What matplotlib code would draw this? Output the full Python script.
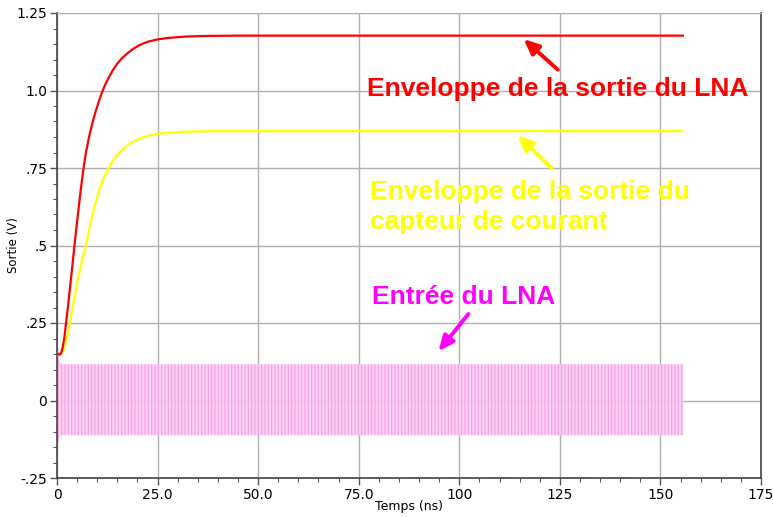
import matplotlib

matplotlib.use("Agg")
import matplotlib.pyplot as plt
from matplotlib.ticker import MultipleLocator, FixedLocator

# LNA output envelope (red)
lna_out_t = [0, 0.6, 1.0, 1.4, 1.8, 2.2, 2.7, 3.2, 3.7, 4.3, 4.9, 5.5, 6.0, 6.55,
             7.2, 8.0, 8.8, 9.5, 10.4, 11.35, 12.2, 13.0, 14.0, 15.0, 16.2, 17.5,
             19.0, 20.6, 22.5, 25.0, 28, 32, 37, 45, 155.6]
lna_out_v = [0.152, 0.148, 0.152, 0.17, 0.20, 0.245, 0.30, 0.36, 0.42, 0.495,
             0.565, 0.635, 0.69, 0.745, 0.80, 0.852, 0.895, 0.928, 0.965, 1.0,
             1.025, 1.045, 1.068, 1.087, 1.105, 1.12, 1.135, 1.147, 1.157, 1.165,
             1.17, 1.174, 1.176, 1.177, 1.177]

# current sensor output envelope (yellow)
capt_t = [0, 0.6, 1.0, 1.5, 2.0, 2.5, 3.2, 3.9, 4.6, 5.4, 6.3, 7.2, 8.2, 9.3,
          10.5, 11.6, 12.75, 14.0, 15.3, 16.5, 18.0, 19.5, 21.0, 23.0, 25.0,
          28, 32, 38, 155.6]
capt_v = [0.152, 0.148, 0.15, 0.16, 0.18, 0.205, 0.25, 0.30, 0.35, 0.405, 0.455,
          0.5, 0.565, 0.625, 0.678, 0.718, 0.748, 0.775, 0.797, 0.812, 0.828,
          0.839, 0.847, 0.855, 0.86, 0.864, 0.867, 0.869, 0.869]

# LNA input carrier, drawn as its envelope band
lna_in_t = [0.2, 0.5, 1.0, 155.7]
lna_in_hi = [0.18, 0.13, 0.117, 0.117]
lna_in_lo = [-0.145, -0.12, -0.112, -0.112]

x_ticks = [0, 25, 50, 75, 100, 125, 150, 175]
x_labels = ["0", "25.0", "50.0", "75.0", "100", "125", "150", "175"]
y_ticks = [-0.25, 0, 0.25, 0.5, 0.75, 1.0, 1.25]
y_labels = ["-.25", "0", ".25", ".5", ".75", "1.0", "1.25"]

plt.rcParams["hatch.linewidth"] = 0.9

fig = plt.figure(figsize=(7.73, 5.17), dpi=100)
ax = fig.add_axes([57 / 773, 1 - 478 / 517, (761 - 57) / 773, (478 - 13) / 517])

ax.fill_between(lna_in_t, lna_in_lo, lna_in_hi, facecolor="#fccdf2",
                edgecolor="#f6a0e4", hatch="|||||", lw=0, alpha=0.9, zorder=2)
ax.plot(capt_t, capt_v, color="#ffff00", lw=1.6, zorder=3)
ax.plot(lna_out_t, lna_out_v, color="#ff0000", lw=1.6, zorder=4)

ax.set_xlim(0, 175)
ax.set_ylim(-0.25, 1.25)
ax.xaxis.set_major_locator(FixedLocator(x_ticks))
ax.set_xticklabels(x_labels)
ax.yaxis.set_major_locator(FixedLocator(y_ticks))
ax.set_yticklabels(y_labels)
ax.xaxis.set_minor_locator(MultipleLocator(5))
ax.yaxis.set_minor_locator(MultipleLocator(0.05))
ax.tick_params(which="major", length=5, width=1, color="#555555", labelsize=10, pad=2)
ax.tick_params(which="minor", length=3, width=0.8, color="#555555")

ax.set_axisbelow(True)
ax.grid(True, which="major", color="#b0b0b0", lw=1)
for side in ("left", "bottom", "right"):
    ax.spines[side].set_color("#444444")
    ax.spines[side].set_linewidth(1.2)
ax.spines["top"].set_color("#b0b0b0")

ax.set_xlabel("Temps (ns)", fontsize=9)
ax.set_ylabel("Sortie (V)", fontsize=8.5)
ax.xaxis.set_label_coords(0.5, -0.048)
ax.yaxis.set_label_coords(-0.052, 0.5)

txt = dict(family="Liberation Sans", weight="bold", fontsize=19)
ax.text(77.1, 1.006, "Enveloppe de la sortie du LNA", color="#ff0000",
        va="center", ha="left", **txt)
ax.text(77.8, 0.625, "Enveloppe de la sortie du\ncapteur de courant",
        color="#ffff00", va="center", ha="left", linespacing=1.3, **txt)
ax.text(78.3, 0.333, "Entrée du LNA", color="#ff00ff",
        va="center", ha="left", **txt)

arrow = dict(arrowstyle="-|>,head_length=0.9,head_width=0.4", lw=2.8)
ax.annotate("", xy=(115.5, 1.172), xytext=(125.0, 1.061),
            arrowprops=dict(color="#ff0000", **arrow))
ax.annotate("", xy=(114.0, 0.862), xytext=(123.4, 0.744),
            arrowprops=dict(color="#ffff00", **arrow))
ax.annotate("", xy=(94.4, 0.152), xytext=(102.7, 0.286),
            arrowprops=dict(color="#ff00ff", **arrow))

fig.savefig("out.png", dpi=100)
